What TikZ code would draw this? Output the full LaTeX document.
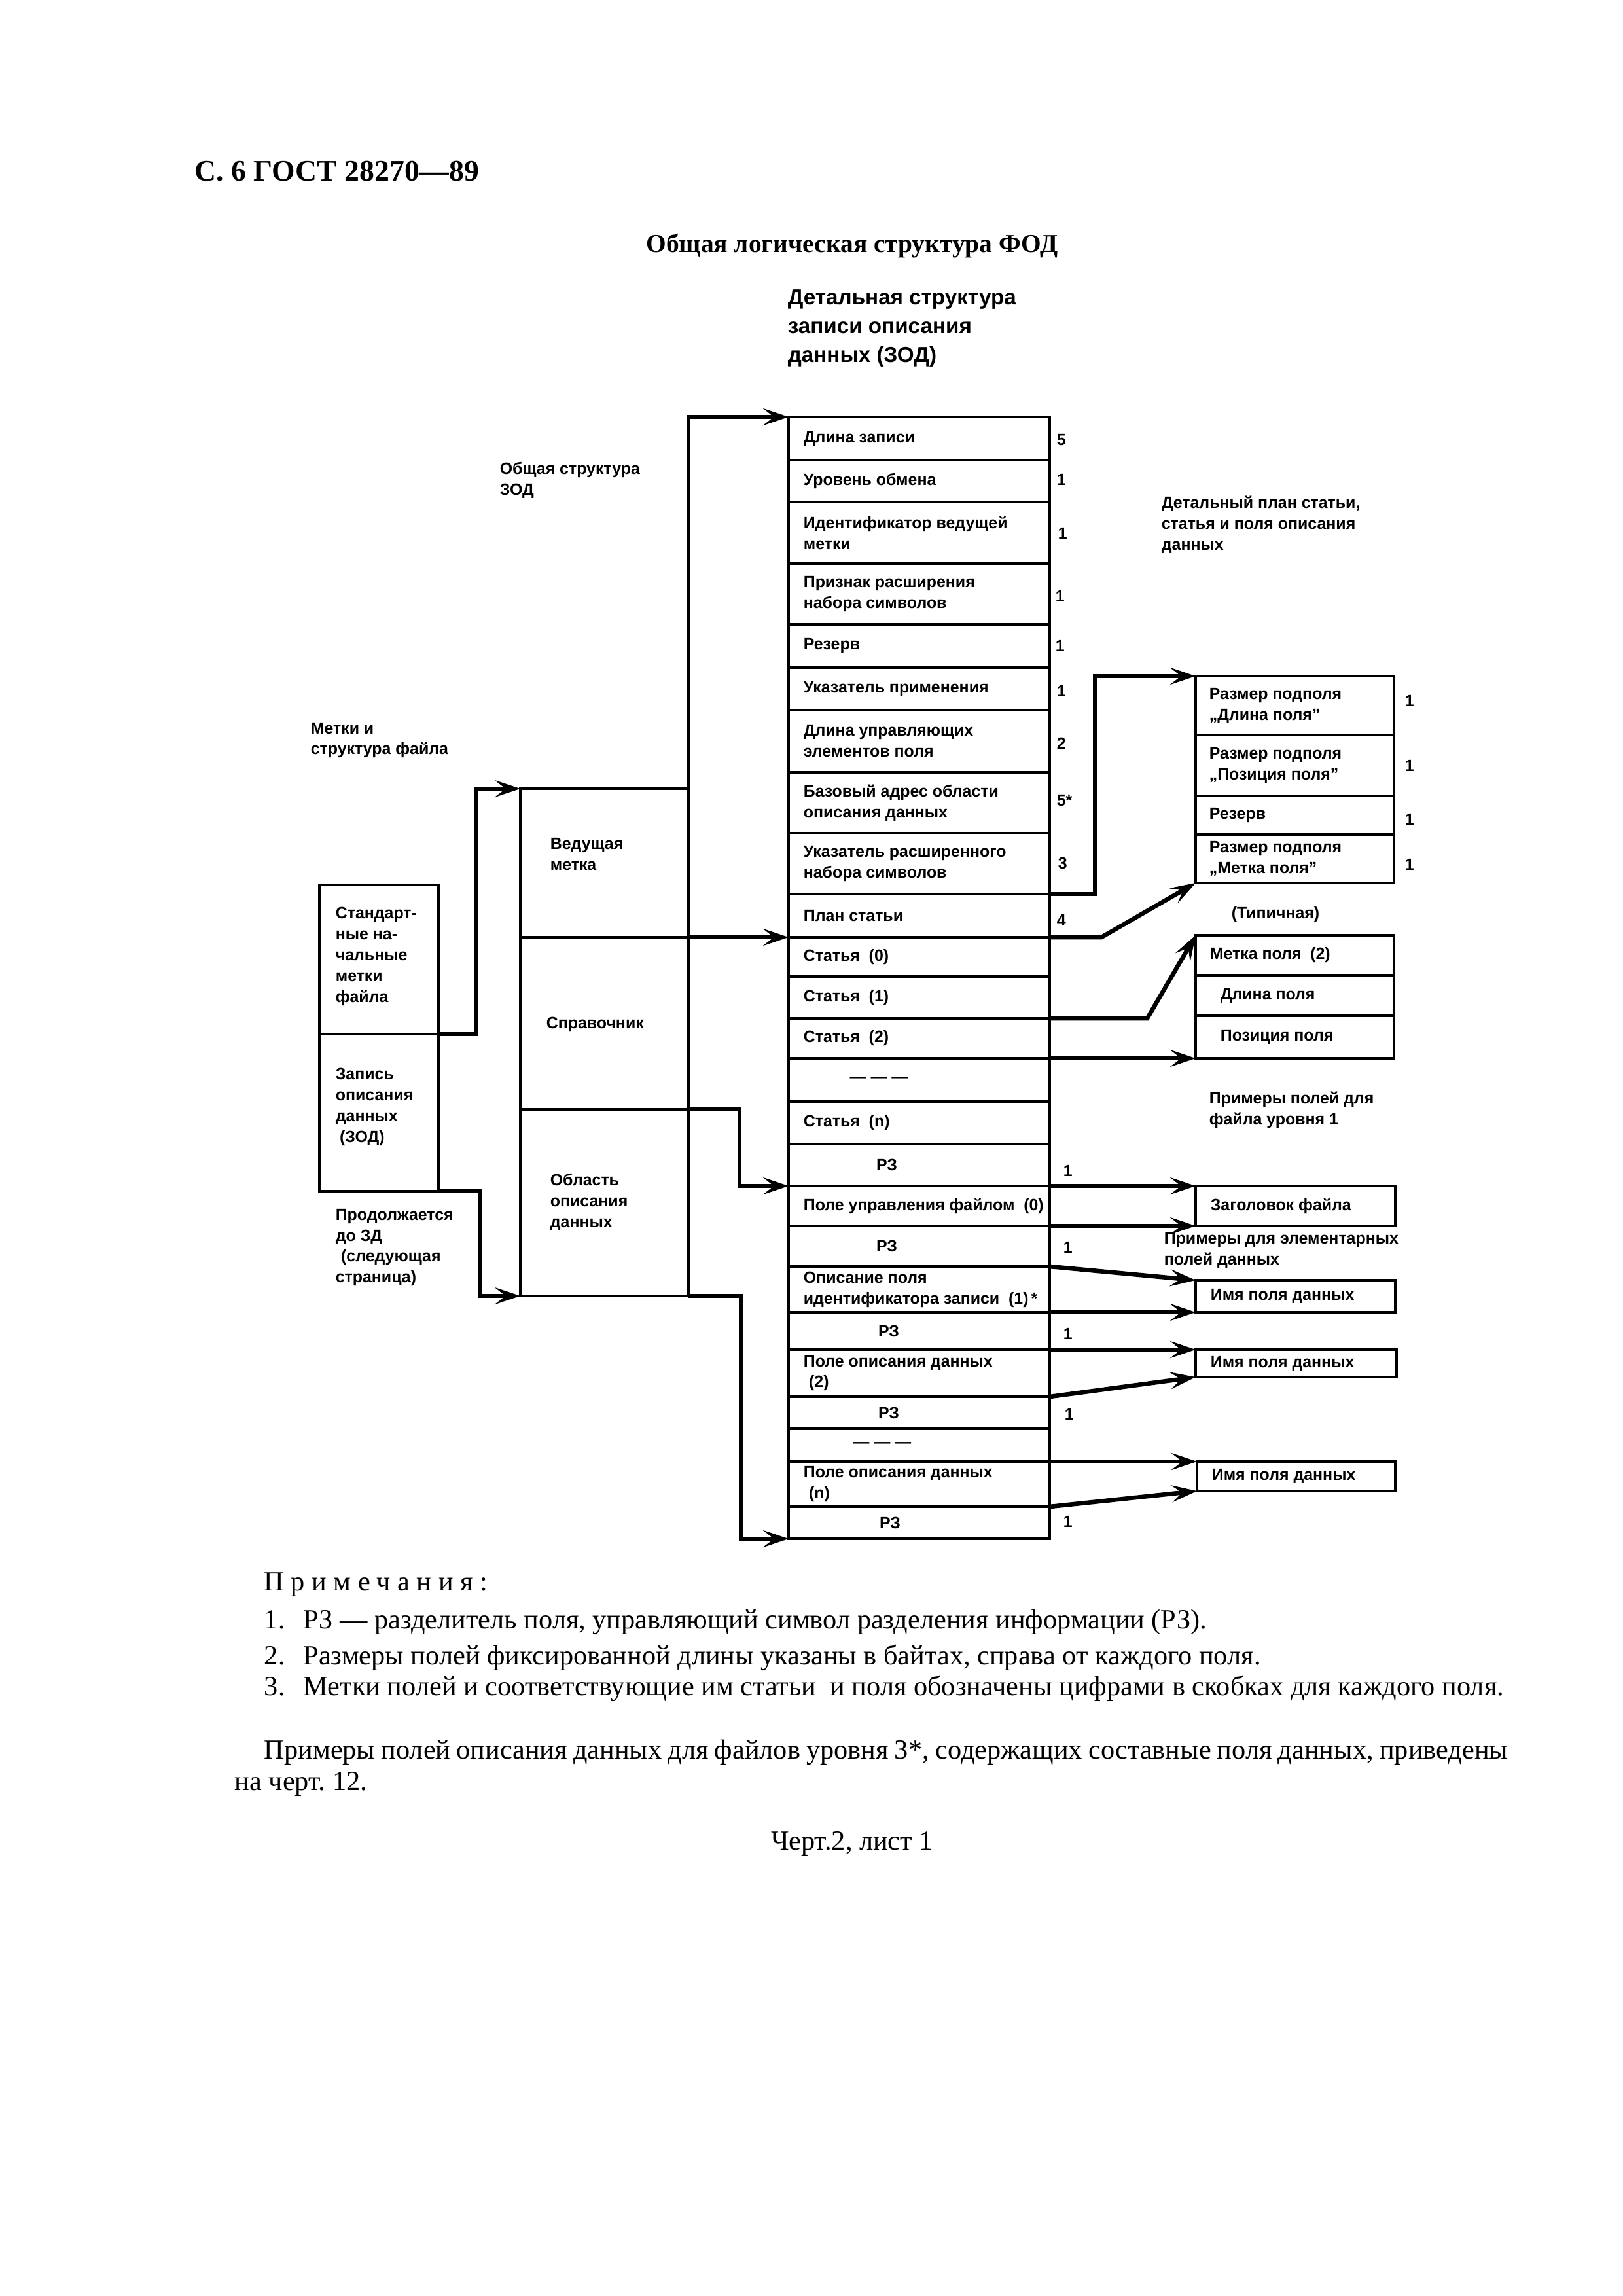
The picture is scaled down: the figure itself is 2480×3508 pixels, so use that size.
\documentclass[tikz,border=0pt]{standalone}
\usepackage{fontspec}
\setmainfont{Liberation Serif}
\newfontfamily\dsans{Liberation Sans}
\usetikzlibrary{arrows.meta}
\def\PX{0.0846667mm}
\tikzset{
  box/.style={draw, line width=1.1pt, anchor=north west, inner sep=0pt, outer sep=0pt},
  lbl/.style={inner sep=0pt, anchor=west, align=left, font={\dsans\bfseries\fontsize{6}{7.7}\selectfont}},
  bigl/.style={inner sep=0pt, anchor=west, align=left, font={\dsans\bfseries\fontsize{8}{10.6}\selectfont}},
  num/.style={inner sep=0pt, anchor=west, font={\dsans\bfseries\fontsize{6}{7.7}\selectfont}},
  conn/.style={line width=1.6pt, -{Stealth[length=3.3mm, width=2.2mm, inset=1.4mm]}},
  serif/.style={inner sep=0pt, anchor=west, font={\fontsize{10.2}{12.3}\selectfont}},
  serifb/.style={inner sep=0pt, anchor=west, font={\bfseries\fontsize{11}{13}\selectfont}},
}
\newcommand\bx[5]{\node[box, minimum width={(#4-#2)*\PX}, minimum height={(#5-#3)*\PX}] (#1) at (#2,#3) {};}
\newcommand\mrow[4]{\bx{#1}{1205}{#2}{1604}{#3}\node[lbl] (#1t) at ([xshift=22*\PX]#1.west) {#4};}
\newcommand\crow[5]{\bx{#1}{1205}{#2}{1604}{#3}\node[lbl, anchor=center] (#1t) at ([xshift={(#5-1404.5)*\PX}]#1.center) {#4};}
\begin{document}
\begin{tikzpicture}[x=0.0846667mm, y=-0.0846667mm]
\fill[white] (0,0) rectangle (2480,3508);
\useasboundingbox (0,0) rectangle (2480,3508);

% header and title
\node[serifb] (hd) at (297,262) {С. 6 ГОСТ 28270—89};
\node[serifb, anchor=center, font={\bfseries\fontsize{9.5}{12}\selectfont}] (tt) at (1302,376) {Общая логическая структура ФОД};

% headings
\node[bigl] (hdet) at (1203,502) {Детальная структура\\записи описания\\данных (ЗОД)};
\node[lbl] (hobs) at (763,734) {Общая структура\\ЗОД};
\node[lbl] (hmet) at (474,1131) {Метки и\\структура файла};
\node[lbl] (hplan) at (1774,802) {Детальный план статьи,\\статья и поля описания\\данных};

% left boxes
\bx{sb}{488}{1352}{670}{1580}
\node[lbl] (sbt) at (512,1461) {Стандарт-\\ные на-\\чальные\\метки\\файла};
\bx{zod}{488}{1580}{670}{1820}
\node[lbl] (zodt) at (512,1691) {Запись\\описания\\данных\\\hspace*{1.5pt}(ЗОД)};
\node[lbl] (prod) at (512,1906) {Продолжается\\до ЗД\\\hspace*{2pt}(следующая\\страница)};

% middle column
\bx{ved}{795}{1205}{1052}{1432}
\node[lbl] (vedt) at (840,1305) {Ведущая\\метка};
\bx{spr}{795}{1432}{1052}{1695}
\node[lbl] (sprt) at (834,1565) {Справочник};
\bx{obl}{795}{1695}{1052}{1980}
\node[lbl] (oblt) at (840,1837) {Область\\описания\\данных};

% main column
\mrow{r1}{637}{703}{Длина записи}
\mrow{r2}{703}{767}{Уровень обмена}
\mrow{r3}{767}{861}{Идентификатор ведущей\\метки}
\mrow{r4}{861}{954}{Признак расширения\\набора символов}
\mrow{r5}{954}{1020}{Резерв}
\mrow{r6}{1020}{1085}{Указатель применения}
\mrow{r7}{1085}{1180}{Длина управляющих\\элементов поля}
\mrow{r8}{1180}{1273}{Базовый адрес области\\описания данных}
\mrow{r9}{1273}{1366}{Указатель расширенного\\набора символов}
\mrow{r10}{1366}{1432}{План статьи}
\mrow{r11}{1432}{1492}{Статья\ \ (0)}
\mrow{r12}{1492}{1556}{Статья\ \ (1)}
\mrow{r13}{1556}{1617}{Статья\ \ (2)}
\crow{r14}{1617}{1683}{— — —}{1343}
\mrow{r15}{1683}{1748}{Статья\ \ (n)}
\crow{r16}{1748}{1812}{РЗ}{1355}
\mrow{r17}{1812}{1873}{Поле управления файлом\ \ (0)}
\crow{r18}{1873}{1935}{РЗ}{1355}
\mrow{r19}{1935}{2005}{Описание поля\\идентификатора записи\ \ (1)\,*}
\crow{r20}{2005}{2062}{РЗ}{1358}
\mrow{r21}{2062}{2134}{Поле описания данных\\\hspace*{2pt}(2)}
\crow{r22}{2134}{2183}{РЗ}{1358}
\crow{r23}{2183}{2233}{— — —}{1348}
\mrow{r24}{2233}{2302}{Поле описания данных\\\hspace*{2pt}(n)}
\crow{r25}{2302}{2351}{РЗ}{1360}

% sizes
\node[num] (r1n) at (1614,672) {5};
\node[num] (r2n) at (1614,733) {1};
\node[num] (r3n) at (1616,815) {1};
\node[num] (r4n) at (1612,911) {1};
\node[num] (r5n) at (1612,987) {1};
\node[num] (r6n) at (1614,1056) {1};
\node[num] (r7n) at (1614,1136) {2};
\node[num] (r8n) at (1614,1223) {5*};
\node[num] (r9n) at (1616,1319) {3};
\node[num] (r10n) at (1614,1406) {4};
\node[num] (r16n) at (1624,1789) {1};
\node[num] (r18n) at (1624,1906) {1};
\node[num] (r20n) at (1624,2038) {1};
\node[num] (r22n) at (1626,2161) {1};
\node[num] (r25n) at (1624,2325) {1};

% detail plan boxes
\bx{d1}{1827}{1033}{2130}{1123}
\node[lbl] (d1t) at ([xshift=20*\PX]d1.west) {Размер подполя\\„Длина поля”};
\bx{d2}{1827}{1123}{2130}{1216}
\node[lbl] (d2t) at ([xshift=20*\PX]d2.west) {Размер подполя\\„Позиция поля”};
\bx{d3}{1827}{1216}{2130}{1275}
\node[lbl] (d3t) at ([xshift=20*\PX]d3.west) {Резерв};
\bx{d4}{1827}{1275}{2130}{1349}
\node[lbl] (d4t) at ([xshift=20*\PX]d4.west) {Размер подполя\\„Метка поля”};
\node[num] (d1n) at (2146,1071) {1};
\node[num] (d2n) at (2146,1170) {1};
\node[num] (d3n) at (2146,1252) {1};
\node[num] (d4n) at (2146,1321) {1};
\node[lbl, anchor=center] (typ) at (1949,1397) {(Типичная)};

\bx{e1}{1827}{1429}{2130}{1490}
\node[lbl] (e1t) at ([xshift=21*\PX]e1.west) {Метка поля\ \ (2)};
\bx{e2}{1827}{1490}{2130}{1552}
\node[lbl] (e2t) at ([xshift=37*\PX]e2.west) {Длина поля};
\bx{e3}{1827}{1552}{2130}{1617}
\node[lbl] (e3t) at ([xshift=37*\PX]e3.west) {Позиция поля};
\node[lbl] (pr1) at (1847,1696) {Примеры полей для\\файла уровня 1};

\bx{f1}{1827}{1812}{2132}{1873}
\node[lbl] (f1t) at ([xshift=22*\PX]f1.west) {Заголовок файла};
\node[lbl] (pr2) at (1778,1910) {Примеры для элементарных\\полей данных};
\bx{g1}{1827}{1956}{2132}{2005}
\node[lbl] (g1t) at ([xshift=22*\PX]g1.west) {Имя поля данных};
\bx{g2}{1827}{2062}{2134}{2104}
\node[lbl] (g2t) at ([xshift=22*\PX]g2.west) {Имя поля данных};
\bx{g3}{1829}{2233}{2132}{2278}
\node[lbl] (g3t) at ([xshift=22*\PX]g3.west) {Имя поля данных};

% connectors, left and middle
\draw[conn] (sb.south east) -- ++(57,0) |- (ved.north west);
\draw[conn] (ved.north east) |- (r1.north west);
\draw[conn] (ved.south east) -- (r11.north west);
\draw[conn] (spr.south east) -- ++(78,0) |- (r17.north west);
\draw[conn] (zod.south east) -- ++(64,0) |- (obl.south west);
\draw[conn] (obl.south east) -- ++(80,0) |- (r25.south west);

% connectors, right
\draw[conn] (r9.south east) -- ++(69,0) |- (d1.north west);
\draw[conn] (r10.south east) -- ++(79,0) -- (d4.south west);
\draw[conn] (r12.south east) -- ++(149,0) -- (e1.north west);
\draw[conn] (r13.south east) -- (e3.south west);
\draw[conn] (r16.south east) -- (f1.north west);
\draw[conn] (r17.south east) -- (f1.south west);
\draw[conn] (r18.south east) -- (g1.north west);
\draw[conn] (r19.south east) -- (g1.south west);
\draw[conn] (r20.south east) -- (g2.north west);
\draw[conn] (r21.south east) -- (g2.south west);
\draw[conn] (r23.south east) -- (g3.north west);
\draw[conn] (r24.south east) -- (g3.south west);

% notes
\node[serif] (nh) at (403,2421) {\addfontfeatures{LetterSpace=25}Примечания:};
\node[serif] (n1) at (403,2478) {\makebox[14.4pt][l]{1.}РЗ — разделитель поля, управляющий символ разделения информации (РЗ).};
\node[serif] (n2) at (403,2533) {\makebox[14.4pt][l]{2.}Размеры полей фиксированной длины указаны в байтах, справа от каждого поля.};
\node[serif] (n3) at (403,2580) {\makebox[14.4pt][l]{3.}Метки полей и соответствующие им статьи\ \ и поля обозначены цифрами в скобках для каждого поля.};
\node[serif] (p1) at (403,2677) {\makebox[160.9mm][s]{Примеры полей описания данных для файлов уровня 3*, содержащих составные поля данных, приведены}};
\node[serif] (p2) at (358,2726) {на черт.\ 12.};
\node[serif, anchor=center] (cht) at (1302,2817) {Черт.2,\ лист 1};
\end{tikzpicture}
\end{document}
